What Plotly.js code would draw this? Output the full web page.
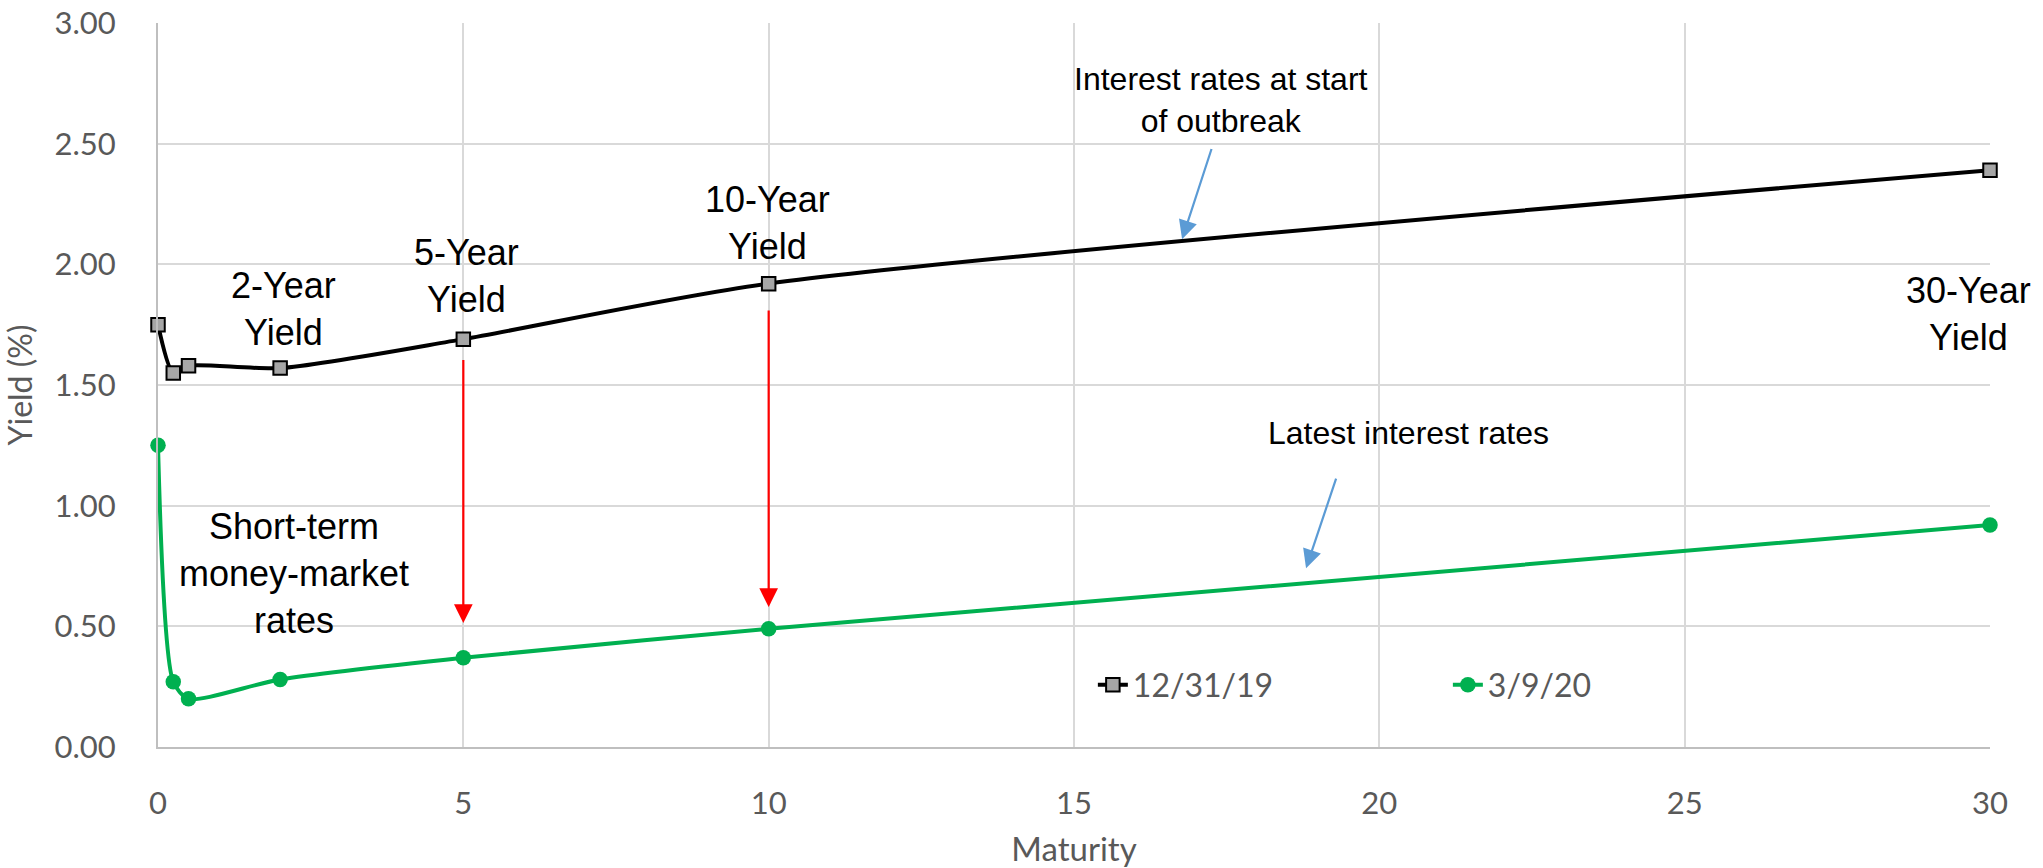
<!DOCTYPE html>
<html><head><meta charset="utf-8">
<script src="https://cdn.plot.ly/plotly-3.0.1.min.js"></script>
<style>html,body{margin:0;padding:0;background:#fff;} #chart{width:2043px;height:868px;}</style>
</head><body><div id="chart"></div>
<script>
// ---- data ----
const maturities = [0, 0.25, 0.5, 2, 5, 10, 30];
const yieldsDec31 = [1.75, 1.55, 1.58, 1.57, 1.69, 1.92, 2.39];
const yieldsMar9 = [1.25, 0.27, 0.20, 0.28, 0.37, 0.49, 0.92];
const seriesNames = ['12/31/19', '3/9/20'];
const xTickVals = [0, 5, 10, 15, 20, 25, 30];
const xTickText = ['0', '5', '10', '15', '20', '25', '30'];
const yTickVals = [0, 0.5, 1, 1.5, 2, 2.5, 3];
const yTickText = ['0.00', '0.50', '1.00', '1.50', '2.00', '2.50', '3.00'];
const xTitle = 'Maturity';
const yTitle = 'Yield (%)';
const labelTexts = ['2-Year<br>Yield', '5-Year<br>Yield', '10-Year<br>Yield', '30-Year<br>Yield',
  'Short-term<br>money-market<br>rates', 'Interest rates at start<br>of outbreak', 'Latest interest rates'];

const tickFont = {family: 'Lato, "Open Sans", sans-serif', size: 31, color: '#595959'};
const bigFont = {family: '"Liberation Sans", Arial, sans-serif', size: 36, color: '#000000'};
const smallFont = {family: '"Liberation Sans", Arial, sans-serif', size: 32, color: '#000000'};

const traces = [
  {x: maturities, y: yieldsDec31, name: seriesNames[0], type: 'scatter', mode: 'lines+markers',
   line: {color: '#000000', width: 4, shape: 'spline', smoothing: 0.7},
   marker: {symbol: 'square', size: 13.5, color: '#A6A6A6', line: {color: '#000000', width: 2}},
   cliponaxis: false},
  {x: maturities, y: yieldsMar9, name: seriesNames[1], type: 'scatter', mode: 'lines+markers',
   line: {color: '#00B050', width: 4, shape: 'spline', smoothing: 0.7},
   marker: {symbol: 'circle', size: 15.5, color: '#00B050', line: {width: 0}},
   cliponaxis: false}
];

function label(text, x, y, font) {
  return {text: text, x: x, y: y, xref: 'x', yref: 'y', showarrow: false,
          xanchor: 'center', yanchor: 'middle', align: 'center', font: font};
}
function arrow(x, y, ax, ay, color) {
  return {text: '', x: x, y: y, ax: ax, ay: ay, xref: 'x', yref: 'y', axref: 'x', ayref: 'y',
          showarrow: true, arrowhead: 2, arrowsize: 1.7, arrowwidth: 2.2, arrowcolor: color, standoff: 0, startstandoff: 0};
}

const annotations = [
  label(labelTexts[0], 2.05, 1.815, bigFont),
  label(labelTexts[1], 5.05, 1.95, bigFont),
  label(labelTexts[2], 9.98, 2.17, bigFont),
  label(labelTexts[3], 29.645, 1.794, bigFont),
  label(labelTexts[4], 2.227, 0.717, bigFont),
  label(labelTexts[5], 17.41, 2.683, smallFont),
  label(labelTexts[6], 20.47, 1.301, smallFont),
  arrow(5, 0.514, 5, 1.61, '#FF0000'),
  arrow(10, 0.58, 10, 1.815, '#FF0000'),
  arrow(16.77, 2.104, 17.26, 2.484, '#5B9BD5'),
  arrow(18.80, 0.741, 19.30, 1.118, '#5B9BD5')
];

const layout = {
  width: 2043, height: 868,
  margin: {l: 158, r: 53, t: 23, b: 121, pad: 0},
  paper_bgcolor: '#ffffff', plot_bgcolor: '#ffffff',
  showlegend: true,
  legend: {orientation: 'h', x: 0.5103, y: 0.0856, xanchor: 'left', yanchor: 'middle',
           font: {family: 'Lato, "Open Sans", sans-serif', size: 32, color: '#595959'},
           bgcolor: 'rgba(0,0,0,0)', entrywidth: 310, entrywidthmode: 'pixels', itemwidth: 30},
  xaxis: {range: [0, 30], tickvals: xTickVals, ticktext: xTickText, tickfont: tickFont,
          showgrid: true, gridcolor: '#D9D9D9', gridwidth: 2, zeroline: false,
          showline: true, linecolor: '#BFBFBF', linewidth: 2, ticks: '', ticklabelstandoff: 28,
          automargin: false,
          title: {text: xTitle, font: {family: 'Lato, "Open Sans", sans-serif', size: 33, color: '#595959'}, standoff: 22}},
  yaxis: {range: [0, 3], tickvals: yTickVals, ticktext: yTickText, tickfont: tickFont,
          showgrid: true, gridcolor: '#D9D9D9', gridwidth: 2, zeroline: false,
          showline: true, linecolor: '#BFBFBF', linewidth: 2, ticks: '', ticklabelstandoff: 34,
          automargin: false,
          title: {text: yTitle, font: {family: 'Lato, "Open Sans", sans-serif', size: 32, color: '#595959'}, standoff: 14}},
  annotations: annotations
};

Plotly.newPlot('chart', traces, layout, {displayModeBar: false, staticPlot: true});
</script></body></html>
